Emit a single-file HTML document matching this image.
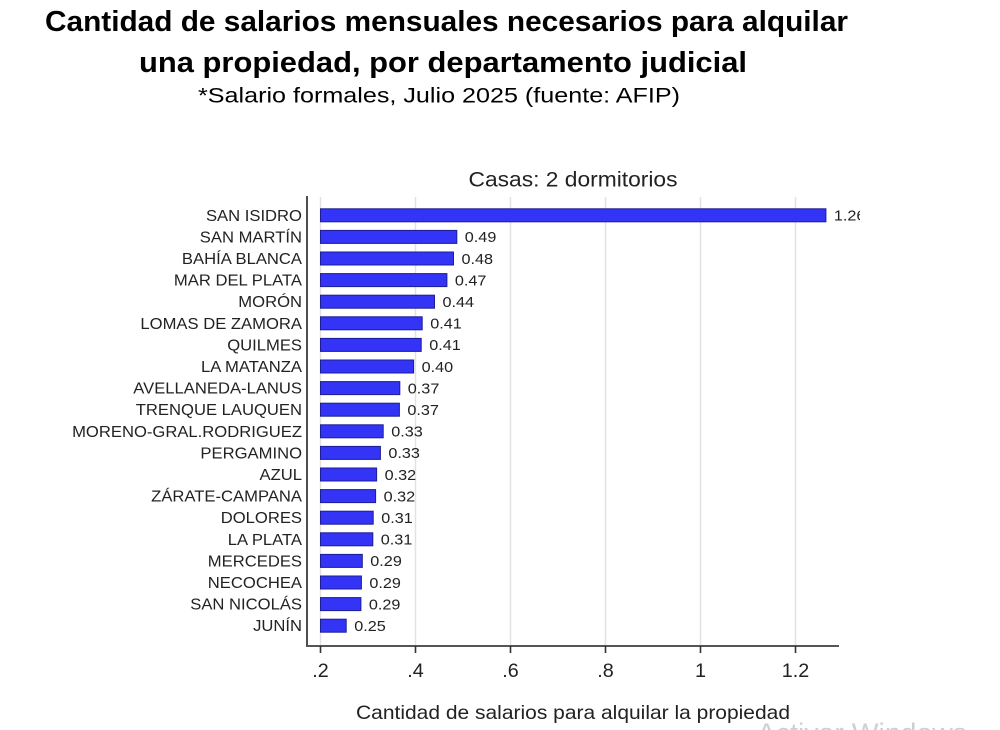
<!DOCTYPE html>
<html><head><meta charset="utf-8">
<style>
html,body{margin:0;padding:0;background:#fff;}
svg{display:block;}
.t{font-family:"Liberation Sans",Arial,sans-serif;}
.lab{font-family:"Liberation Sans",Arial,sans-serif;font-size:15.4px;fill:#222;}
.val{font-family:"Liberation Sans",Arial,sans-serif;font-size:15px;fill:#222;}
.tick{font-family:"Liberation Sans",Arial,sans-serif;font-size:19px;fill:#222;}
</style></head>
<body>
<svg width="1000" height="730" viewBox="0 0 1000 730" xmlns="http://www.w3.org/2000/svg">
<rect width="1000" height="730" fill="#fff"/>
<!-- Titles -->
<text class="t" x="446.5" y="31" text-anchor="middle" font-weight="bold" font-size="29" fill="#000" textLength="803" lengthAdjust="spacingAndGlyphs">Cantidad de salarios mensuales necesarios para alquilar</text>
<text class="t" x="443" y="72" text-anchor="middle" font-weight="bold" font-size="29" fill="#000" textLength="608" lengthAdjust="spacingAndGlyphs">una propiedad, por departamento judicial</text>
<text class="t" x="439" y="102.5" text-anchor="middle" font-size="21" fill="#000" textLength="482" lengthAdjust="spacingAndGlyphs">*Salario formales, Julio 2025 (fuente: AFIP)</text>
<text class="t" x="573" y="186.7" text-anchor="middle" font-size="21" fill="#222" textLength="209" lengthAdjust="spacingAndGlyphs">Casas: 2 dormitorios</text>

<defs><clipPath id="c"><rect x="0" y="0" width="860" height="730"/></clipPath></defs>

<!-- gridlines -->
<g stroke="#e2e2e2" stroke-width="1.5">
<line x1="320.5" y1="197" x2="320.5" y2="646"/>
<line x1="415.5" y1="197" x2="415.5" y2="646"/>
<line x1="510.5" y1="197" x2="510.5" y2="646"/>
<line x1="605.5" y1="197" x2="605.5" y2="646"/>
<line x1="700.5" y1="197" x2="700.5" y2="646"/>
<line x1="795.5" y1="197" x2="795.5" y2="646"/>
</g>

<!-- bars -->
<g fill="#3434f6" stroke="#1d1d96" stroke-width="1">
<rect x="320.5" y="208.8" width="505.4" height="13"/>
<rect x="320.5" y="230.4" width="136.3" height="13"/>
<rect x="320.5" y="252.0" width="133.0" height="13"/>
<rect x="320.5" y="273.6" width="126.4" height="13"/>
<rect x="320.5" y="295.2" width="114.0" height="13"/>
<rect x="320.5" y="316.8" width="101.7" height="13"/>
<rect x="320.5" y="338.4" width="100.7" height="13"/>
<rect x="320.5" y="360.0" width="93.1" height="13"/>
<rect x="320.5" y="381.6" width="79.3" height="13"/>
<rect x="320.5" y="403.2" width="78.9" height="13"/>
<rect x="320.5" y="424.8" width="62.7" height="13"/>
<rect x="320.5" y="446.4" width="59.9" height="13"/>
<rect x="320.5" y="468.0" width="56.1" height="13"/>
<rect x="320.5" y="489.6" width="55.1" height="13"/>
<rect x="320.5" y="511.2" width="52.7" height="13"/>
<rect x="320.5" y="532.8" width="52.3" height="13"/>
<rect x="320.5" y="554.4" width="41.8" height="13"/>
<rect x="320.5" y="576.0" width="40.9" height="13"/>
<rect x="320.5" y="597.6" width="40.4" height="13"/>
<rect x="320.5" y="619.2" width="25.7" height="13"/>
</g>

<!-- value labels -->
<g clip-path="url(#c)">
<text class="val" transform="translate(833.9,220.6) scale(1.08,1)">1.26</text>
<text class="val" transform="translate(464.8,242.2) scale(1.08,1)">0.49</text>
<text class="val" transform="translate(461.5,263.8) scale(1.08,1)">0.48</text>
<text class="val" transform="translate(454.9,285.4) scale(1.08,1)">0.47</text>
<text class="val" transform="translate(442.5,307.0) scale(1.08,1)">0.44</text>
<text class="val" transform="translate(430.2,328.6) scale(1.08,1)">0.41</text>
<text class="val" transform="translate(429.2,350.2) scale(1.08,1)">0.41</text>
<text class="val" transform="translate(421.6,371.8) scale(1.08,1)">0.40</text>
<text class="val" transform="translate(407.8,393.4) scale(1.08,1)">0.37</text>
<text class="val" transform="translate(407.4,415.0) scale(1.08,1)">0.37</text>
<text class="val" transform="translate(391.2,436.6) scale(1.08,1)">0.33</text>
<text class="val" transform="translate(388.4,458.2) scale(1.08,1)">0.33</text>
<text class="val" transform="translate(384.6,479.8) scale(1.08,1)">0.32</text>
<text class="val" transform="translate(383.6,501.4) scale(1.08,1)">0.32</text>
<text class="val" transform="translate(381.2,523.0) scale(1.08,1)">0.31</text>
<text class="val" transform="translate(380.8,544.6) scale(1.08,1)">0.31</text>
<text class="val" transform="translate(370.3,566.2) scale(1.08,1)">0.29</text>
<text class="val" transform="translate(369.4,587.8) scale(1.08,1)">0.29</text>
<text class="val" transform="translate(368.9,609.4) scale(1.08,1)">0.29</text>
<text class="val" transform="translate(354.2,631.0) scale(1.08,1)">0.25</text>
</g>

<!-- category labels -->
<g text-anchor="end">
<text class="lab" transform="translate(302,220.8) scale(1.08,1)">SAN ISIDRO</text>
<text class="lab" transform="translate(302,242.4) scale(1.08,1)">SAN MARTÍN</text>
<text class="lab" transform="translate(302,264.0) scale(1.08,1)">BAHÍA BLANCA</text>
<text class="lab" transform="translate(302,285.6) scale(1.08,1)">MAR DEL PLATA</text>
<text class="lab" transform="translate(302,307.2) scale(1.08,1)">MORÓN</text>
<text class="lab" transform="translate(302,328.8) scale(1.08,1)">LOMAS DE ZAMORA</text>
<text class="lab" transform="translate(302,350.4) scale(1.08,1)">QUILMES</text>
<text class="lab" transform="translate(302,372.0) scale(1.08,1)">LA MATANZA</text>
<text class="lab" transform="translate(302,393.6) scale(1.08,1)">AVELLANEDA-LANUS</text>
<text class="lab" transform="translate(302,415.2) scale(1.08,1)">TRENQUE LAUQUEN</text>
<text class="lab" transform="translate(302,436.8) scale(1.08,1)">MORENO-GRAL.RODRIGUEZ</text>
<text class="lab" transform="translate(302,458.4) scale(1.08,1)">PERGAMINO</text>
<text class="lab" transform="translate(302,480.0) scale(1.08,1)">AZUL</text>
<text class="lab" transform="translate(302,501.6) scale(1.08,1)">ZÁRATE-CAMPANA</text>
<text class="lab" transform="translate(302,523.2) scale(1.08,1)">DOLORES</text>
<text class="lab" transform="translate(302,544.8) scale(1.08,1)">LA PLATA</text>
<text class="lab" transform="translate(302,566.4) scale(1.08,1)">MERCEDES</text>
<text class="lab" transform="translate(302,588.0) scale(1.08,1)">NECOCHEA</text>
<text class="lab" transform="translate(302,609.6) scale(1.08,1)">SAN NICOLÁS</text>
<text class="lab" transform="translate(302,631.2) scale(1.08,1)">JUNÍN</text>
</g>

<!-- axes -->
<line x1="307" y1="196" x2="307" y2="647" stroke="#222" stroke-width="1.6"/>
<line x1="306" y1="646" x2="839" y2="646" stroke="#555" stroke-width="2"/>
<g stroke="#333" stroke-width="1.6">
<line x1="320.5" y1="646" x2="320.5" y2="653"/>
<line x1="415.5" y1="646" x2="415.5" y2="653"/>
<line x1="510.5" y1="646" x2="510.5" y2="653"/>
<line x1="605.5" y1="646" x2="605.5" y2="653"/>
<line x1="700.5" y1="646" x2="700.5" y2="653"/>
<line x1="795.5" y1="646" x2="795.5" y2="653"/>
</g>
<g text-anchor="middle">
<text class="tick" transform="translate(320.5,677) scale(1.04,1)">.2</text>
<text class="tick" transform="translate(415.5,677) scale(1.04,1)">.4</text>
<text class="tick" transform="translate(510.5,677) scale(1.04,1)">.6</text>
<text class="tick" transform="translate(605.5,677) scale(1.04,1)">.8</text>
<text class="tick" transform="translate(700.5,677) scale(1.04,1)">1</text>
<text class="tick" transform="translate(795.5,677) scale(1.04,1)">1.2</text>
</g>
<text class="t" x="573" y="719" text-anchor="middle" font-size="19.5" fill="#222" textLength="434" lengthAdjust="spacingAndGlyphs">Cantidad de salarios para alquilar la propiedad</text>

<!-- watermark -->
<text class="t" x="757" y="742" font-size="27" fill="#cfcfcf" textLength="210" lengthAdjust="spacingAndGlyphs">Activar Windows</text>
</svg>
</body></html>
